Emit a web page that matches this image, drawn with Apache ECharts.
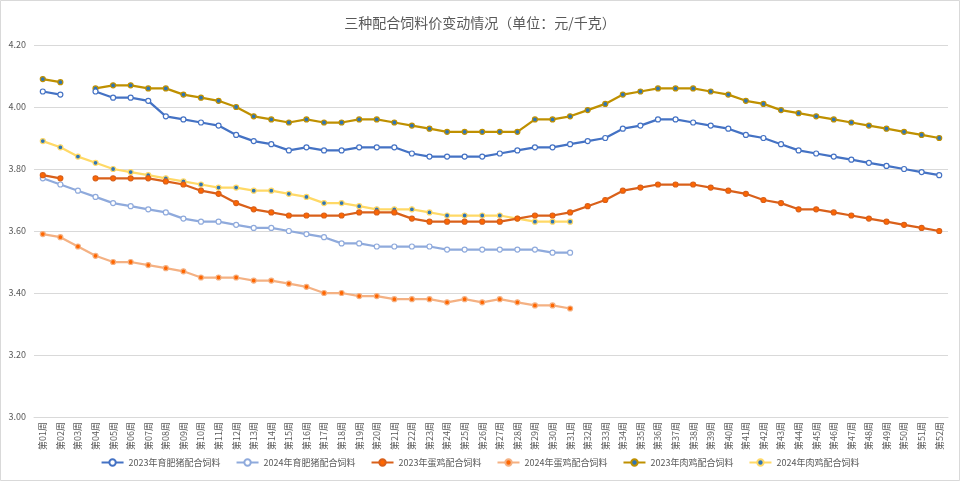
<!DOCTYPE html>
<html>
<head>
<meta charset="utf-8">
<script src="https://cdn.jsdelivr.net/npm/echarts@6/dist/echarts.min.js"></script>
<style>html,body{margin:0;padding:0;background:#fff;}#c{width:960px;height:481px;}</style>
</head>
<body>
<div id="c"></div>
<script>
var weeks = [];
for (var i = 1; i <= 52; i++) weeks.push('第' + (i < 10 ? '0' + i : i) + '周');

var hog2023 = [4.05,4.04,null,4.05,4.03,4.03,4.02,3.97,3.96,3.95,3.94,3.91,3.89,3.88,3.86,3.87,3.86,3.86,3.87,3.87,3.87,3.85,3.84,3.84,3.84,3.84,3.85,3.86,3.87,3.87,3.88,3.89,3.90,3.93,3.94,3.96,3.96,3.95,3.94,3.93,3.91,3.90,3.88,3.86,3.85,3.84,3.83,3.82,3.81,3.80,3.79,3.78];
var hog2024 = [3.77,3.75,3.73,3.71,3.69,3.68,3.67,3.66,3.64,3.63,3.63,3.62,3.61,3.61,3.60,3.59,3.58,3.56,3.56,3.55,3.55,3.55,3.55,3.54,3.54,3.54,3.54,3.54,3.54,3.53,3.53];
var layer2023 = [3.78,3.77,null,3.77,3.77,3.77,3.77,3.76,3.75,3.73,3.72,3.69,3.67,3.66,3.65,3.65,3.65,3.65,3.66,3.66,3.66,3.64,3.63,3.63,3.63,3.63,3.63,3.64,3.65,3.65,3.66,3.68,3.70,3.73,3.74,3.75,3.75,3.75,3.74,3.73,3.72,3.70,3.69,3.67,3.67,3.66,3.65,3.64,3.63,3.62,3.61,3.60];
var layer2024 = [3.59,3.58,3.55,3.52,3.50,3.50,3.49,3.48,3.47,3.45,3.45,3.45,3.44,3.44,3.43,3.42,3.40,3.40,3.39,3.39,3.38,3.38,3.38,3.37,3.38,3.37,3.38,3.37,3.36,3.36,3.35];
var broiler2023 = [4.09,4.08,null,4.06,4.07,4.07,4.06,4.06,4.04,4.03,4.02,4.00,3.97,3.96,3.95,3.96,3.95,3.95,3.96,3.96,3.95,3.94,3.93,3.92,3.92,3.92,3.92,3.92,3.96,3.96,3.97,3.99,4.01,4.04,4.05,4.06,4.06,4.06,4.05,4.04,4.02,4.01,3.99,3.98,3.97,3.96,3.95,3.94,3.93,3.92,3.91,3.90];
var broiler2024 = [3.89,3.87,3.84,3.82,3.80,3.79,3.78,3.77,3.76,3.75,3.74,3.74,3.73,3.73,3.72,3.71,3.69,3.69,3.68,3.67,3.67,3.67,3.66,3.65,3.65,3.65,3.65,3.64,3.63,3.63,3.63];

var names = ['2023年育肥猪配合饲料','2024年育肥猪配合饲料','2023年蛋鸡配合饲料','2024年蛋鸡配合饲料','2023年肉鸡配合饲料','2024年肉鸡配合饲料'];
var yTicks = [3.00, 3.20, 3.40, 3.60, 3.80, 4.00, 4.20];

function mk(name, data, lineColor, markFill, markBorder, width, z) {
  return {
    name: name, type: 'line', data: data, z: z,
    symbol: 'circle', symbolSize: 5, connectNulls: false,
    lineStyle: {color: lineColor, width: width},
    itemStyle: {color: markFill, borderColor: markBorder, borderWidth: 1.2},
    emphasis: {disabled: true}
  };
}

var chart = echarts.init(document.getElementById('c'), null, {renderer: 'canvas'});
chart.setOption({
  animation: false,
  backgroundColor: '#fff',
  textStyle: {fontFamily: '"Noto Sans CJK SC", "Noto Sans", sans-serif'},
  title: {
    text: '三种配合饲料价变动情况（单位：元/千克）',
    left: 'center', top: 11,
    textStyle: {fontSize: 14, fontWeight: 'normal', color: '#595959', fontFamily: '"Noto Sans CJK SC", sans-serif'}
  },
  graphic: [{
    type: 'rect', shape: {x: 0.5, y: 0.5, width: 959, height: 480},
    style: {fill: 'none', stroke: '#d9d9d9', lineWidth: 1}, silent: true, z: -1
  }],
  legend: {
    data: names, bottom: 9, left: 'center', itemWidth: 22, itemHeight: 8, itemGap: 15,
    textStyle: {fontSize: 9, color: '#595959'}
  },
  grid: {left: 34, right: 12, top: 45, bottom: 64},
  xAxis: {
    type: 'category', data: weeks, boundaryGap: true,
    axisLine: {lineStyle: {color: '#d9d9d9'}},
    axisTick: {show: false},
    axisLabel: {interval: 0, rotate: 90, fontSize: 9, color: '#595959', margin: 5}
  },
  yAxis: {
    type: 'value', min: yTicks[0], max: yTicks[yTicks.length - 1], interval: 0.2,
    axisLine: {show: false}, axisTick: {show: false},
    splitLine: {lineStyle: {color: '#d9d9d9'}},
    axisLabel: {fontSize: 9, color: '#595959', margin: 8, formatter: function (v) { return v.toFixed(2); }}
  },
  series: [
    mk(names[0], hog2023, '#4472C4', '#ffffff', '#4472C4', 2.25, 6),
    mk(names[1], hog2024, '#8FAADC', '#ffffff', '#8FAADC', 2.25, 3),
    mk(names[2], layer2023, '#D9601A', '#FF6600', '#D9601A', 2.25, 5),
    mk(names[3], layer2024, '#F4B183', '#FF6600', '#F4B183', 2.25, 2),
    mk(names[4], broiler2023, '#BF9000', '#2E75B6', '#BF9000', 2.25, 4),
    mk(names[5], broiler2024, '#FFD966', '#2E75B6', '#FFD966', 2.25, 1)
  ]
});
</script>
</body>
</html>
